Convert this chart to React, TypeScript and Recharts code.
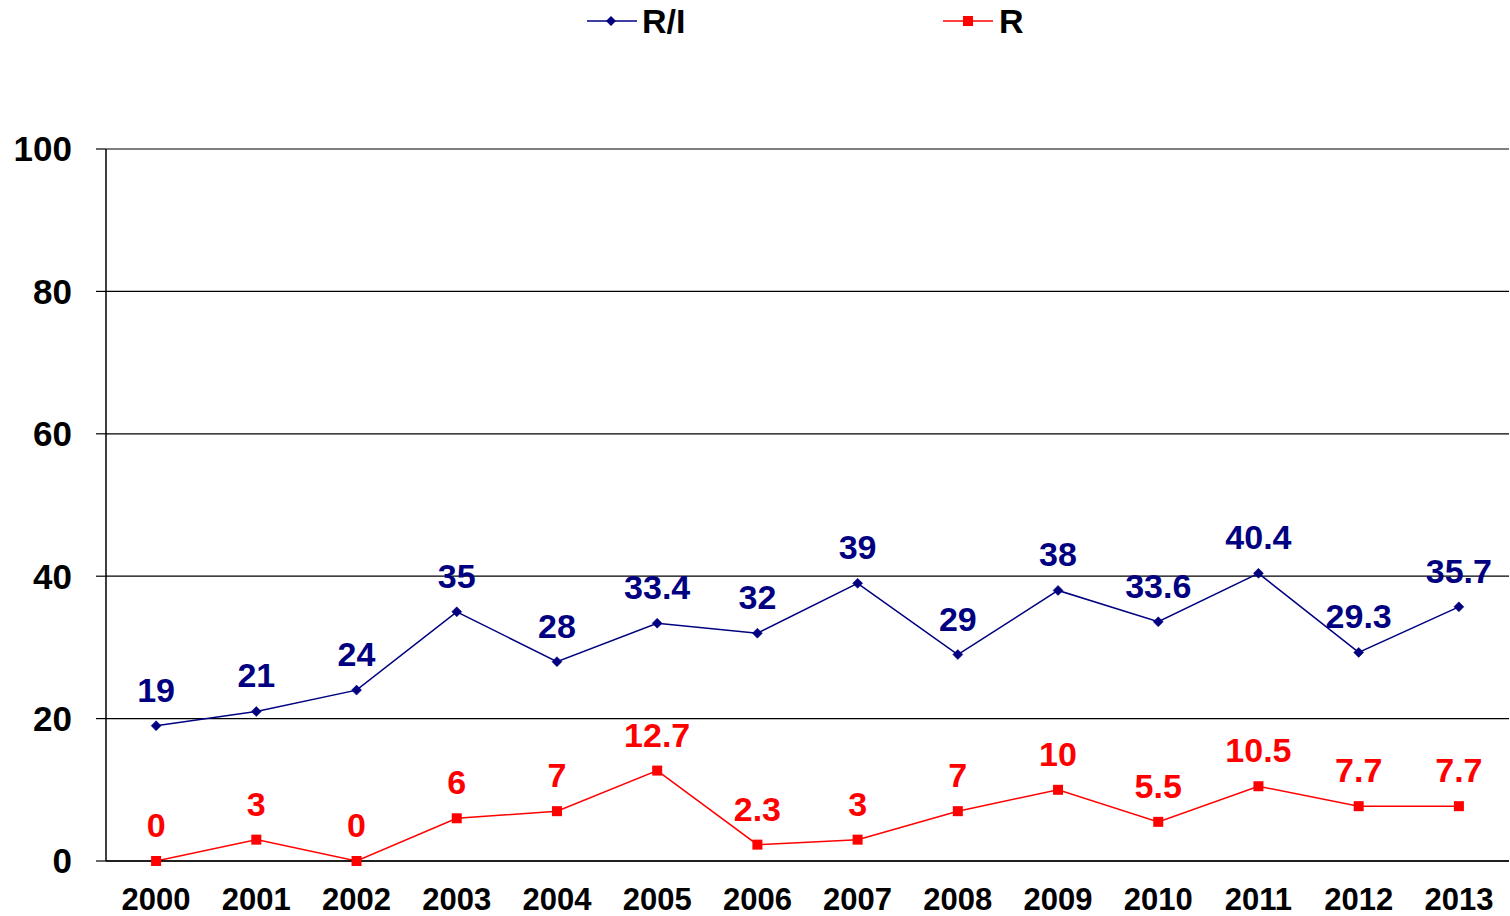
import React from 'react';
import { LineChart, Line, XAxis, YAxis, CartesianGrid, Legend } from 'recharts';

const years = ['2000','2001','2002','2003','2004','2005','2006','2007','2008','2009','2010','2011','2012','2013'];
const riValues = [19, 21, 24, 35, 28, 33.4, 32, 39, 29, 38, 33.6, 40.4, 29.3, 35.7];
const rValues = [0, 3, 0, 6, 7, 12.7, 2.3, 3, 7, 10, 5.5, 10.5, 7.7, 7.7];
const yTicks = [0, 20, 40, 60, 80, 100];
const seriesNames = ['R/I', 'R'];

const NAVY = '#000080';
const RED = '#FF0000';
const FONT = '"Liberation Sans", Arial, Helvetica, sans-serif';

const data = years.map((y, i) => ({ i, year: y, ri: riValues[i], r: rValues[i] }));
const boundaryTicks = Array.from({ length: years.length + 1 }, (_, k) => k - 0.5);
const centerTicks = years.map((_, i) => i);

const Diamond = (props: any) => {
  const { cx, cy } = props;
  if (cx == null || cy == null) return null;
  const s = 5;
  return <polygon points={`${cx},${cy - s} ${cx + s},${cy} ${cx},${cy + s} ${cx - s},${cy}`} fill={NAVY} stroke={NAVY} strokeWidth={0.5} />;
};

const Square = (props: any) => {
  const { cx, cy } = props;
  if (cx == null || cy == null) return null;
  const s = 5;
  return <rect x={cx - s} y={cy - s} width={2 * s} height={2 * s} fill={RED} />;
};

const LegendContent = (props: any) => {
  const payload = props.payload || [];
  const nameOf = (key: string, fallback: string) => {
    const p = payload.find((e: any) => e.dataKey === key);
    return (p && p.value) || fallback;
  };
  return (
    <svg width={1510} height={42} style={{ display: 'block' }}>
      <line x1={587} x2={637} y1={21} y2={21} stroke={NAVY} strokeWidth={1.5} />
      <polygon points="611,16 616,21 611,26 606,21" fill={NAVY} />
      <text x={642} y={33} fontSize={34} fontWeight="bold" fontFamily={FONT} fill="#000">{nameOf('ri', seriesNames[0])}</text>
      <line x1={943} x2={993} y1={21} y2={21} stroke={RED} strokeWidth={1.5} />
      <rect x={963} y={16} width={10} height={10} fill={RED} />
      <text x={999} y={33} fontSize={34} fontWeight="bold" fontFamily={FONT} fill="#000">{nameOf('r', seriesNames[1])}</text>
    </svg>
  );
};

export default function App() {
  return (
    <div style={{ position: 'absolute', left: 0, top: 0, width: 1510, height: 916, background: '#fff', fontFamily: FONT }}>
      <LineChart width={1510} height={916} data={data} margin={{ top: 107, right: 1, bottom: 0, left: 0 }}>
        <Legend verticalAlign="top" align="left" content={<LegendContent />} wrapperStyle={{ top: 0, left: 0, width: 1510, height: 42 }} />
        <CartesianGrid vertical={false} stroke="#000" strokeWidth={1.2} />
        <XAxis
          xAxisId="marks"
          dataKey="i"
          type="number"
          domain={[-0.5, years.length - 0.5]}
          ticks={boundaryTicks}
          tickFormatter={() => ''}
          height={0}
          axisLine={false}
          tickLine={{ stroke: '#000', strokeWidth: 1.5 }}
          tickSize={11}
          allowDecimals
        />
        <XAxis
          dataKey="i"
          type="number"
          domain={[-0.5, years.length - 0.5]}
          ticks={centerTicks}
          tickFormatter={(v: number) => years[v]}
          height={55}
          axisLine={{ stroke: '#000', strokeWidth: 1.5 }}
          tickLine={false}
          tickSize={0}
          tickMargin={27}
          tick={{ fill: '#000', fontSize: 31, fontWeight: 'bold', fontFamily: FONT }}
          interval={0}
        />
        <YAxis
          type="number"
          domain={[0, 100]}
          ticks={yTicks}
          width={106}
          axisLine={{ stroke: '#000', strokeWidth: 1.5 }}
          tickLine={{ stroke: '#000', strokeWidth: 1.2 }}
          tickSize={10}
          tickMargin={24}
          tick={{ fill: '#000', fontSize: 35, fontWeight: 'bold', fontFamily: FONT }}
          interval={0}
        />
        <Line
          name={seriesNames[0]}
          dataKey="ri"
          stroke={NAVY}
          strokeWidth={1.5}
          dot={<Diamond />}
          activeDot={false}
          isAnimationActive={false}
          label={{ position: 'top', offset: 24, fill: NAVY, fontSize: 34, fontWeight: 'bold', fontFamily: FONT }}
        />
        <Line
          name={seriesNames[1]}
          dataKey="r"
          stroke={RED}
          strokeWidth={1.5}
          dot={<Square />}
          activeDot={false}
          isAnimationActive={false}
          label={{ position: 'top', offset: 24, fill: RED, fontSize: 34, fontWeight: 'bold', fontFamily: FONT }}
        />
      </LineChart>
    </div>
  );
}
